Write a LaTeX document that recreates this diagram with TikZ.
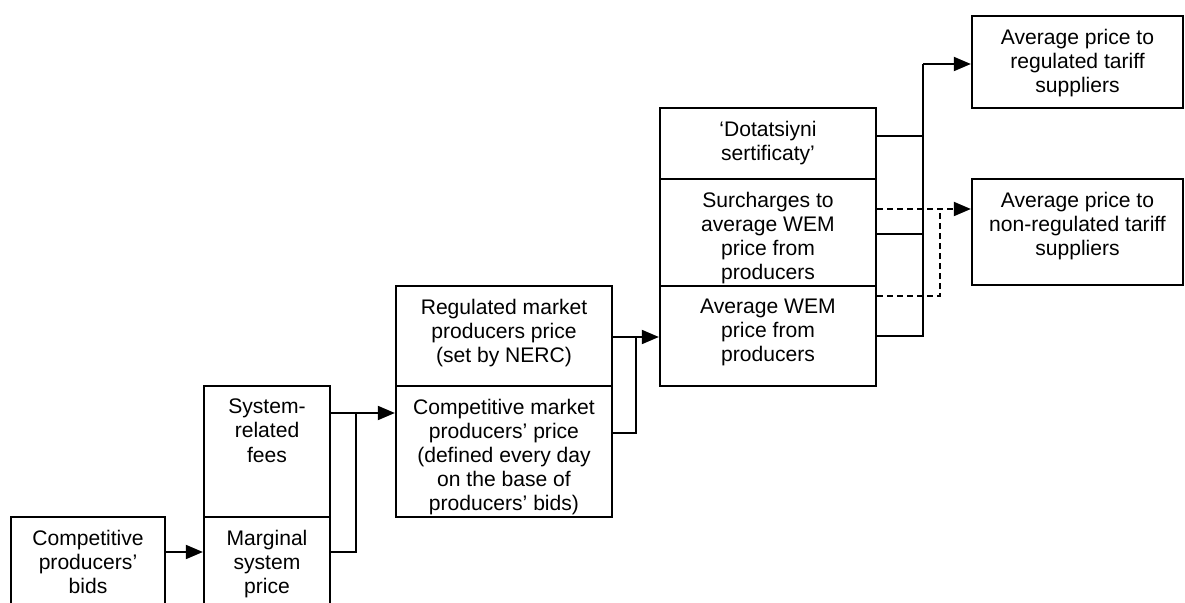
\documentclass[tikz,border=0pt]{standalone}
\usepackage{fontspec}
\setmainfont{Liberation Sans}
\usetikzlibrary{arrows.meta,fit,positioning}

\begin{document}
\begin{tikzpicture}[
    x=0.2mm, y=-0.2mm,
    % Style for the price boxes (drawn round their corner points)
    box/.style={draw, line width=1.3pt, inner sep=0pt},
    % Style for the text hanging from the top of a box
    boxtext/.style={anchor=north, align=center, inner sep=0pt, yshift=-8pt,
        font=\fontsize{12}{13.66}\selectfont},
    % Styles for the connectors
    link/.style={line width=1.1pt},
    flow/.style={link, -{Triangle[length=3.4mm, width=2.8mm]}},
    dashlink/.style={link, dash pattern=on 1.2mm off 0.8mm}
]

    \useasboundingbox (0,0) rectangle (1185,603);

    % --- 1. Boxes ---
    \node[box, fit={(11,517) (165,625)}] (bids) {};

    \node[box, fit={(204,386) (330,517)}] (fees) {};
    \node[box, fit={(204,517) (330,625)}] (marg) {};

    \node[box, fit={(396,286) (612,386)}] (reg) {};
    \node[box, fit={(396,386) (612,517)}] (comp) {};

    \node[box, fit={(660,108) (876,179)}] (dot) {};
    \node[box, fit={(660,179) (876,286)}] (sur) {};
    \node[box, fit={(660,286) (876,386)}] (wem) {};

    \node[box, fit={(972,16) (1183,108)}] (regsup) {};
    \node[box, fit={(972,179) (1183,285)}] (nonreg) {};

    % --- 2. Box texts ---
    \node[boxtext] (bids-t) at (bids.north) {Competitive\\producers’\\bids};
    \node[boxtext] (fees-t) at (fees.north) {System-\\related\\fees};
    \node[boxtext] (marg-t) at (marg.north) {Marginal\\system\\price};
    \node[boxtext] (reg-t) at (reg.north) {Regulated market\\producers price\\(set by NERC)};
    \node[boxtext] (comp-t) at (comp.north) {Competitive market\\producers’ price\\(defined every day\\on the base of\\producers’ bids)};
    \node[boxtext] (dot-t) at (dot.north) {‘Dotatsiyni\\sertificaty’};
    \node[boxtext] (sur-t) at (sur.north) {Surcharges to\\average WEM\\price from\\producers};
    \node[boxtext] (wem-t) at (wem.north) {Average WEM\\price from\\producers};
    \node[boxtext] (regsup-t) at (regsup.north) {Average price to\\regulated tariff\\suppliers};
    \node[boxtext] (nonreg-t) at (nonreg.north) {Average price to\\non-regulated tariff\\suppliers};

    % --- 3. Junctions of the connectors ---
    \coordinate (busA) at (356,413);
    \coordinate (busB) at (636,337);
    \coordinate (busC) at (923,64);
    \coordinate (busD) at (940,209);

    % --- 4. Connectors ---
    \draw[flow] (bids.east |- 0,552) -- (marg.west |- 0,552);

    \draw[link] (marg.east |- 0,552) -| (busA);
    \draw[flow] (fees.east |- busA) -- (comp.west |- busA);

    \draw[link] (comp.east |- 0,433) -| (busB);
    \draw[flow] (reg.east |- busB) -- (wem.west |- busB);

    \draw[link] (wem.east) -| (busC);
    \draw[link] (dot.east |- 0,136) -- (busC |- 0,136);
    \draw[link] (sur.east |- 0,234) -- (busC |- 0,234);
    \draw[flow] (busC) -- (regsup.west |- busC);

    % dashed route to the non-regulated suppliers
    \draw[dashlink] (wem.east |- 0,296) -| (busD);
    \draw[dashlink, -{Triangle[length=3.4mm, width=2.8mm]}] (sur.east |- busD) -- (nonreg.west |- busD);

\end{tikzpicture}
\end{document}
